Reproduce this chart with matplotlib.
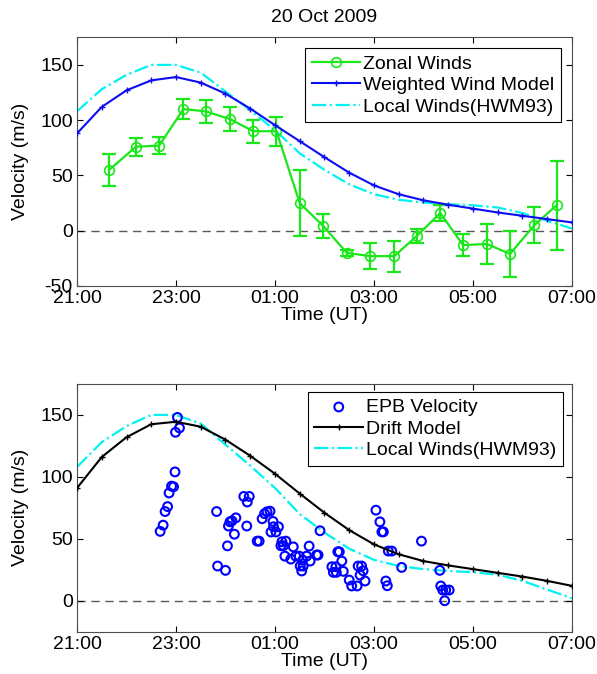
import numpy as np
import matplotlib
matplotlib.use("Agg")
import matplotlib.pyplot as plt

# ----------------------------
# Data (UT hours, after midnight written as 24+)
# ----------------------------
model_t = [21.0, 21.5, 22.0, 22.5, 23.0, 23.5, 24.0, 24.5, 25.0, 25.5, 26.0,
           26.5, 27.0, 27.5, 28.0, 28.5, 29.0, 29.5, 30.0, 30.5, 31.0]

weighted_model = [88, 112, 127, 136, 139, 134, 124, 110.5, 95.5, 81, 66.5,
                  52.5, 41, 33, 27.5, 23.5, 20, 16.5, 13.5, 10.5, 7.5]
drift_model = [91, 116, 132, 142.5, 144.5, 140.5, 130, 117, 102.5, 86.5, 71,
               57, 45.5, 37.5, 32, 28.5, 25.5, 22.5, 19.5, 16, 12]
hwm93 = [108, 128, 141, 150, 150, 143, 126, 109, 91, 70, 55,
         42, 33, 28, 25.5, 24, 23, 21, 16, 9, 2]

zonal_t = [21.65, 22.19, 22.66, 23.15, 23.60, 24.09, 24.56, 25.03, 25.50, 25.98,
           26.45, 26.92, 27.41, 27.86, 28.34, 28.80, 29.28, 29.75, 30.24, 30.69]
zonal_v = [55, 76, 77, 110, 108, 101, 90, 90, 25, 4,
           -20, -23, -23, -5, 16, -13, -12, -21, 5, 23]
zonal_err = [14.5, 8, 8, 9, 10.5, 10.5, 10.5, 13, 30, 11,
             3, 11.5, 14, 6.5, 7, 10, 18, 21, 16.5, 40]

epb_t = [22.68, 22.74, 22.78, 22.83, 22.86, 22.91, 22.95, 22.98, 22.99, 23.03, 23.07,
         23.82, 23.84, 24.00, 24.04, 24.06, 24.09, 24.13, 24.21, 24.18, 24.37,
         24.48, 24.44, 24.43, 24.64, 24.68, 24.74, 24.79, 24.84, 24.90, 24.96,
         24.92, 24.97, 25.02, 25.07, 25.12, 25.14, 25.17, 25.22, 25.37, 25.69,
         25.91, 25.20, 25.32, 25.42, 25.49, 25.64, 25.84, 25.87, 25.56, 25.71,
         25.51, 25.57, 25.54, 26.15, 26.23, 26.18, 26.24, 26.27, 26.30, 26.35,
         26.38, 26.50, 26.55, 26.66, 26.72, 26.78, 26.82, 26.68, 26.75, 27.04,
         27.12, 27.16, 27.19, 27.24, 27.27, 27.29, 27.36, 27.56, 27.96, 28.33,
         28.35, 28.39, 28.45, 28.52, 28.43]
epb_v = [56, 61, 72, 76, 87, 92.5, 92, 104, 136, 148, 139.5,
         72, 28, 24.5, 44.3, 60.3, 63.7, 64.5, 66.9, 53.7, 84.2,
         84.2, 79.7, 60.3, 48.1, 48.1, 66.2, 70.3, 71.8, 72.3, 64,
         55.5, 59.7, 55.5, 59.7, 44.4, 47.6, 44.4, 48.1, 43.5, 44.1,
         56.5, 36, 33.6, 36, 36, 36, 36.9, 36.9, 32.8, 32,
         28, 28, 24, 27.4, 27.4, 22.9, 22.9, 39.5, 39.5, 32,
         23.7, 16.7, 11.9, 11.9, 20.7, 24.2, 15.9, 28, 28, 73.1,
         63.7, 55.6, 55.6, 15.9, 12.1, 40.1, 40.1, 26.9, 48.1, 24.5,
         11.9, 8.6, 8.6, 8.6, 0]

tick_pos = [21, 23, 25, 27, 29, 31]
tick_lbl = ["21:00", "23:00", "01:00", "03:00", "05:00", "07:00"]

# ----------------------------
# Style
# ----------------------------
plt.rcParams['font.family'] = ['Liberation Sans', 'DejaVu Sans']
plt.rcParams['axes.unicode_minus'] = False
FS = 14
GREEN = (0.1, 0.9, 0.1)
BLUE = (0.05, 0.05, 0.95)
CYAN = (0.0, 0.95, 0.95)


def style_axis(ax, ylim, yticks):
    ax.set_xlim(21, 31)
    ax.set_ylim(*ylim)
    ax.set_xticks(tick_pos)
    ax.set_xticklabels(tick_lbl)
    ax.set_yticks(yticks)
    ax.tick_params(direction='in', top=True, right=True, labelsize=FS,
                   length=4, width=0.8, pad=3)
    for s in ax.spines.values():
        s.set_linewidth(0.8)
        s.set_color('0.3')
    ax.axhline(0, color='0.35', ls=(0, (6, 4)), lw=1.0, zorder=1)
    ax.set_xlabel('Time (UT)', fontsize=FS, labelpad=0)
    ax.set_ylabel('Velocity (m/s)', fontsize=FS)
    ax.yaxis.set_label_coords(-0.097, 0.5)


def add_legend(ax, handles, anchor):
    leg = ax.legend(handles=handles, loc='upper right', bbox_to_anchor=anchor,
                    fontsize=FS, frameon=True, fancybox=False, framealpha=1,
                    edgecolor='black', handlelength=2.5, handletextpad=0.15,
                    borderpad=0.35, labelspacing=0.2, borderaxespad=0,
                    scatterpoints=1)
    leg.get_frame().set_linewidth(0.8)
    return leg


fig = plt.figure(figsize=(5.97, 6.74), dpi=100)

# ----------------------------
# Top panel
# ----------------------------
ax1 = fig.add_axes([0.129, 0.5757, 0.829, 0.369])
ax1.errorbar(zonal_t, zonal_v, yerr=zonal_err, color=GREEN, lw=1.6,
             fmt='none', capsize=5, capthick=1.6, elinewidth=1.6, zorder=3)
zl, = ax1.plot(zonal_t, zonal_v, color=GREEN, lw=1.6, marker='o', ms=7,
               mfc='none', mew=1.2, label='Zonal Winds', zorder=3)
wl, = ax1.plot(model_t, weighted_model, color=BLUE, lw=1.5, marker='+', ms=4,
               mew=1.0, label='Weighted Wind Model', zorder=4)
hl, = ax1.plot(model_t, hwm93, color=CYAN, lw=1.6, ls='-.',
               label='Local Winds(HWM93)', zorder=2)
style_axis(ax1, (-50, 175), [-50, 0, 50, 100, 150])
ax1.set_title('20 Oct 2009', fontsize=FS, pad=11)
add_legend(ax1, [zl, wl, hl], (0.978, 0.956))

# ----------------------------
# Bottom panel
# ----------------------------
ax2 = fig.add_axes([0.129, 0.0628, 0.829, 0.3675])
es = ax2.scatter(epb_t, epb_v, s=40, facecolors='none', edgecolors='blue',
                 linewidths=1.5, label='EPB Velocity', zorder=3)
dl, = ax2.plot(model_t, drift_model, color='black', lw=1.5, marker='+', ms=4,
               mew=1.0, label='Drift Model', zorder=4)
hl2, = ax2.plot(model_t, hwm93, color=CYAN, lw=1.6, ls='-.',
                label='Local Winds(HWM93)', zorder=2)
style_axis(ax2, (-25, 175), [0, 50, 100, 150])
add_legend(ax2, [es, dl, hl2], (0.982, 0.969))

fig.savefig('out.png', dpi=100)
